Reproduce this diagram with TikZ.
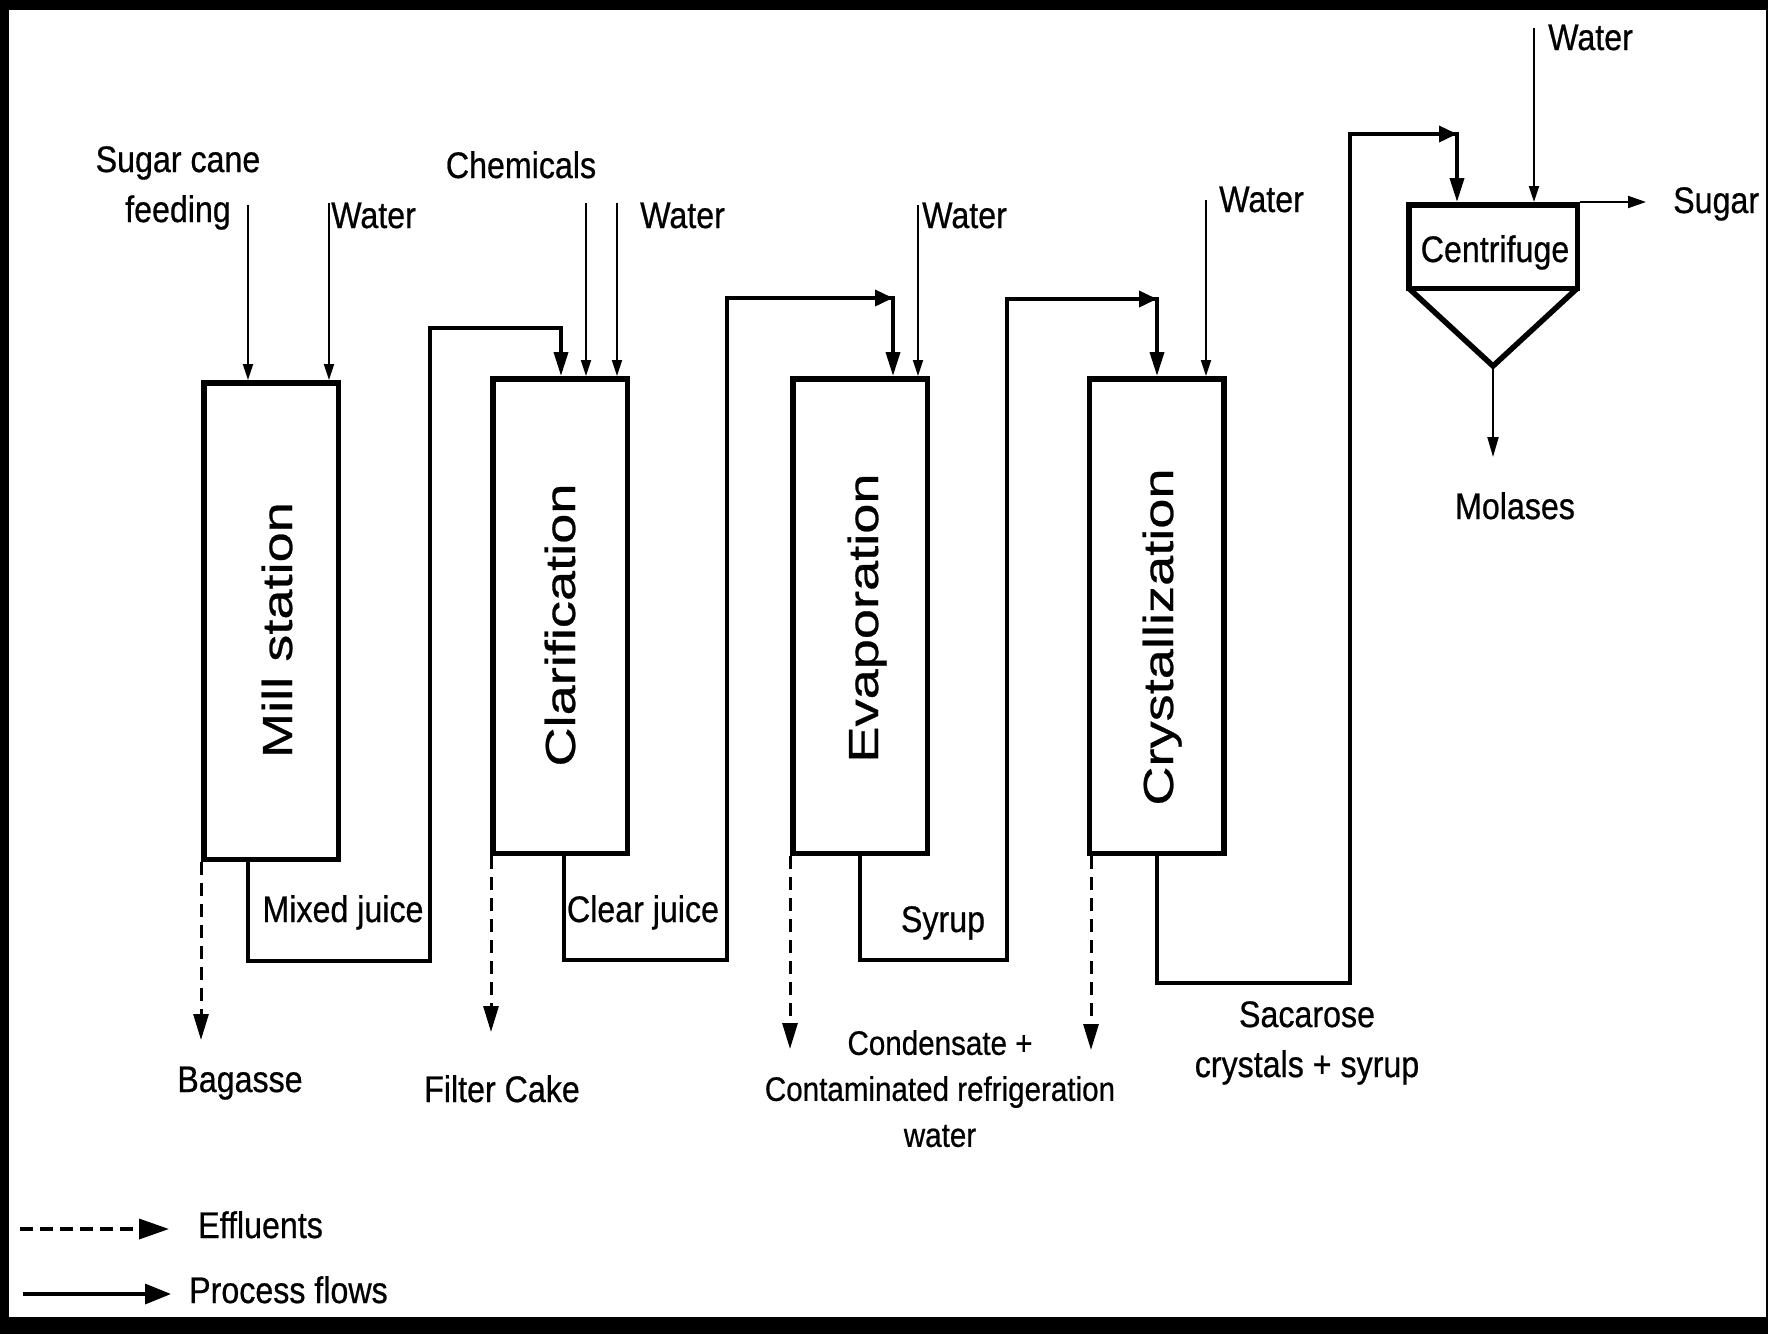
\documentclass[tikz,border=0pt]{standalone}
\usepackage{fontspec}
\setmainfont{Liberation Sans}
\newfontfamily\lblfont[FakeStretch=0.87,FakeBold=0.6]{Liberation Sans}
\newfontfamily\unitfont[FakeStretch=1.29,FakeBold=0.6]{Liberation Sans}
\usetikzlibrary{arrows.meta}

\tikzset{
  feedtip/.tip={Triangle[length=16pt,width=10pt]},
  vtip/.tip={Triangle[length=24pt,width=14pt]},
  htip/.tip={Triangle[length=18pt,width=16pt]},
  efftip/.tip={Triangle[length=26pt,width=15pt]},
  legtip/.tip={Triangle[length=30pt,width=20pt]},
}

\begin{document}
\begin{tikzpicture}[x=1pt,y=-1pt,
  unit/.style={draw, line width=5.5pt, minimum width=134.5pt, minimum height=474.5pt, inner sep=0pt},
  unitlabel/.style={rotate=90, font=\unitfont\fontsize{42}{50}\selectfont, inner sep=0pt, text height=30pt, text depth=0pt},
  lbl/.style={font=\lblfont\fontsize{37}{50}\selectfont, inner sep=0pt},
  smalllbl/.style={font=\lblfont\fontsize{34}{46}\selectfont, inner sep=0pt},
  feed/.style={line width=2pt, -{feedtip}},
  flow/.style={line width=3.6pt, line join=miter},
  effluent/.style={line width=3pt, dash pattern=on 13pt off 8pt, -{efftip}},
]

% frame
\useasboundingbox (0,0) rectangle (1768,1334);
\fill[black] (0,0) rectangle (1768,1334);
\fill[white] (9,10) rectangle (1766,1317);

% process units
\node[unit, minimum height=476.5pt] (mill) at (271,621) {};
\node[unit] (clar) at (560,616) {};
\node[unit] (evap) at (860,616) {};
\node[unit] (cryst) at (1156.5,616) {};
\node[unit, minimum width=168.5pt, minimum height=83.5pt] (cen) at (1493,246.5) {};
\coordinate (apex) at (1493,366);
\draw[line width=5.5pt, line join=miter]
  ([shift={(2.75pt,2.75pt)}]cen.south west) -- (apex) -- ([shift={(-2.75pt,2.75pt)}]cen.south east);

\node[unitlabel] (millT) at (277,630) {Mill station};
\node[unitlabel] (clarT) at (560,625) {Clarification};
\node[unitlabel] (evapT) at (863,618) {Evaporation};
\node[unitlabel] (crystT) at (1158,637) {Crystallization};
\node[lbl, anchor=base] (cenT) at (1495,262) {Centrifuge};

% feeds from above
\coordinate (caneIn) at (248,205);
\coordinate (millW) at (329,203);
\coordinate (chemIn) at (586,203);
\coordinate (clarW) at (617,203);
\coordinate (evapW) at (918,205);
\coordinate (crystW) at (1206,200);
\coordinate (cenW) at (1534,28);
\draw[feed] (caneIn) -- (caneIn |- mill.north);
\draw[feed] (millW) -- (millW |- mill.north);
\draw[feed] (chemIn) -- (chemIn |- clar.north);
\draw[feed] (clarW) -- (clarW |- clar.north);
\draw[feed] (evapW) -- (evapW |- evap.north);
\draw[feed] (crystW) -- (crystW |- cryst.north);
\draw[feed] (cenW) -- (cenW |- cen.north);

\node[lbl, anchor=north, align=center] (caneL) at (178,146) {Sugar cane\\feeding};
\node[lbl, anchor=base west] (millWL) at (331,228) {Water};
\node[lbl, anchor=base] (chemL) at (521,178) {Chemicals};
\node[lbl, anchor=base west] (clarWL) at (640,228) {Water};
\node[lbl, anchor=base west] (evapWL) at (922,228) {Water};
\node[lbl, anchor=base west] (crystWL) at (1219,212) {Water};
\node[lbl, anchor=base west] (cenWL) at (1548,50) {Water};

% main process line
\draw[flow, -{vtip}] (mill.south -| 248,0) |- (430,961) |- (561,328) -- (clar.north -| 561,0);
\draw[flow, -{vtip}] (clar.south -| 564,0) |- (727,960) |- (893,298) -- (evap.north -| 893,0);
\draw[flow, -{htip}] (840,298) -- (893,298);
\draw[flow, -{vtip}] (evap.south) |- (1007,960) |- (1157,299) -- (cryst.north -| 1157,0);
\draw[flow, -{htip}] (1100,299) -- (1157,299);
\draw[flow, -{vtip}] (cryst.south -| 1157,0) |- (1350,983) |- (1457,134) -- (cen.north -| 1457,0);
\draw[flow, -{htip}] (1400,134) -- (1457,134);

\node[lbl, anchor=base] (mixL) at (343,922) {Mixed juice};
\node[lbl, anchor=base] (clearL) at (643,922) {Clear juice};
\node[lbl, anchor=base] (syrupL) at (943,932) {Syrup};
\node[lbl, anchor=north, align=center] (sacL) at (1307,1001) {Sacarose\\crystals + syrup};

% centrifuge products
\coordinate (sugarEnd) at (1646,202);
\coordinate (molEnd) at (1493,457);
\draw[line width=2pt, -{Triangle[length=18pt,width=12pt]}] (sugarEnd -| cen.east) -- (sugarEnd);
\draw[line width=2pt, -{Triangle[length=20pt,width=11pt]}] ([yshift=-2pt]apex) -- (molEnd);
\node[lbl, anchor=base west] (sugarL) at (1673,213) {Sugar};
\node[lbl, anchor=base] (molL) at (1515,519) {Molases};

% effluents
\coordinate (bagEnd) at (201,1040);
\coordinate (cakeEnd) at (491,1032);
\coordinate (condEnd) at (790,1049);
\coordinate (crystEnd) at (1091,1050);
\draw[effluent] (bagEnd |- mill.south) -- (bagEnd);
\draw[effluent] (cakeEnd |- clar.south) -- (cakeEnd);
\draw[effluent] (condEnd |- evap.south) -- (condEnd);
\draw[effluent] (crystEnd |- cryst.south) -- (crystEnd);

\node[lbl, anchor=base] (bagL) at (240,1092) {Bagasse};
\node[lbl, anchor=base] (cakeL) at (502,1102) {Filter Cake};
\node[smalllbl, anchor=north, align=center] (condL) at (940,1030)
  {Condensate +\\Contaminated refrigeration\\water};

% legend
\coordinate (legEa) at (20,1229);
\coordinate (legEb) at (169,1229);
\coordinate (legPa) at (23,1294);
\coordinate (legPb) at (171,1294);
\draw[line width=3.5pt, dash pattern=on 13pt off 7pt, -{legtip}] (legEa) -- (legEb);
\draw[line width=3.5pt, -{Triangle[length=26pt,width=20pt]}] (legPa) -- (legPb);
\node[lbl, anchor=base west] (legEL) at (198,1238) {Effluents};
\node[lbl, anchor=base west] (legPL) at (189,1303) {Process flows};

\end{tikzpicture}
\end{document}
